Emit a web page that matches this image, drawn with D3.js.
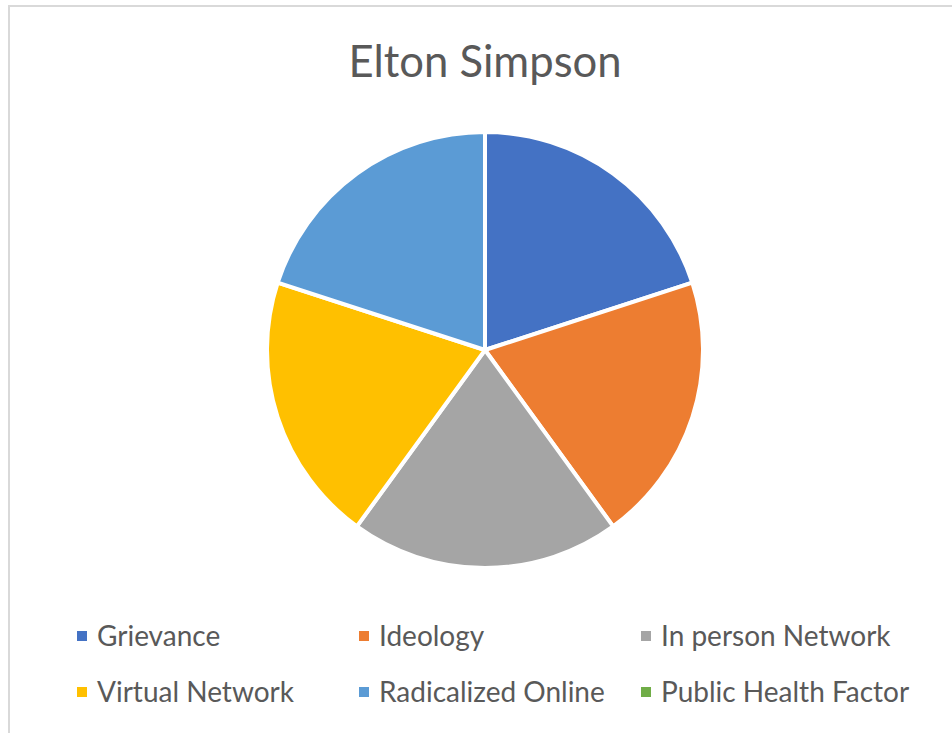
<!DOCTYPE html>
<html><head><meta charset="utf-8">
<script src="https://cdn.jsdelivr.net/npm/d3@7"></script>
<style>body{margin:0;background:#fff;} svg{display:block;}</style>
</head><body>
<script>
const title = "Elton Simpson";
const categories = ["Grievance","Ideology","In person Network","Virtual Network","Radicalized Online","Public Health Factor"];
const values = [1,1,1,1,1,0];
const colors = ["#4472C4","#ED7D31","#A5A5A5","#FFC000","#5B9BD5","#70AD47"];

const W = 952, H = 733;
const svg = d3.select("body").append("svg").attr("width", W).attr("height", H);
svg.append("rect").attr("x",9).attr("y",6).attr("width",W+10).attr("height",H+10)
  .attr("fill","#fff").attr("stroke","#d9d9d9").attr("stroke-width",2);

svg.append("text").attr("x",485).attr("y",77).attr("text-anchor","middle")
  .attr("font-family","Lato, Open Sans, sans-serif").attr("font-size",43.6)
  .attr("fill","#595959").text(title);

const data = categories.map((c,i)=>({c, v: values[i], col: colors[i]}));
const pie = d3.pie().value(d=>d.v).sort(null);
const arc = d3.arc().innerRadius(0).outerRadius(218);
const g = svg.append("g").attr("transform","translate(485,350)");
g.selectAll("path").data(pie(data).filter(d=>d.data.v>0)).join("path")
  .attr("d",arc).attr("fill",d=>d.data.col).attr("stroke","#fff").attr("stroke-width",4)
  .attr("stroke-linejoin","round");

const colX = [77, 359, 641];
const rowY = [636, 692];
const leg = svg.append("g");
data.forEach((d,i)=>{
  const x = colX[i%3], y = rowY[Math.floor(i/3)];
  leg.append("rect").attr("x",x).attr("y",y-5).attr("width",10).attr("height",10).attr("fill",d.col);
  leg.append("text").attr("x",x+20).attr("y",y).attr("dy","0.35em")
    .attr("font-family","Lato, Open Sans, sans-serif").attr("font-size",28)
    .attr("fill","#595959").text(d.c);
});
</script>
</body></html>
